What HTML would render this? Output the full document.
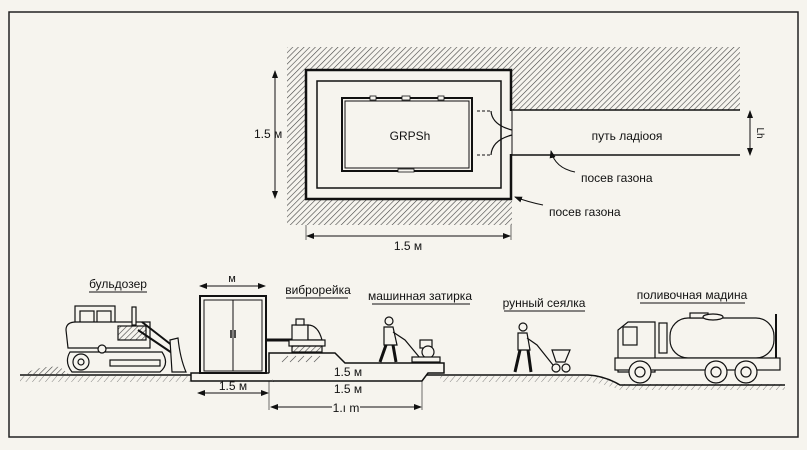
<!DOCTYPE html>
<html><head><meta charset="utf-8"><style>
html,body{margin:0;padding:0;background:#f6f4ee}
svg{display:block}
text{font-family:"Liberation Sans",sans-serif;fill:#111}
</style></head><body>
<svg width="807" height="450" viewBox="0 0 807 450" xmlns="http://www.w3.org/2000/svg">
<defs>
<pattern id="h" width="4" height="4" patternUnits="userSpaceOnUse" patternTransform="rotate(45)">
<line x1="0" y1="0" x2="0" y2="4" stroke="#444" stroke-width="1.2"/>
</pattern>
<pattern id="g" width="5" height="5" patternUnits="userSpaceOnUse" patternTransform="rotate(40)">
<line x1="0" y1="0" x2="0" y2="5" stroke="#666" stroke-width="0.8"/>
</pattern>
<marker id="a" markerWidth="8" markerHeight="8" refX="7" refY="4" orient="auto-start-reverse" markerUnits="userSpaceOnUse"><path d="M0,1 L8,4 L0,7 Z" fill="#111"/></marker>
</defs>
<rect x="0" y="0" width="807" height="450" fill="#f6f4ee"/>
<rect x="9" y="12" width="789" height="425" fill="none" stroke="#222" stroke-width="1.5"/>

<path d="M287,47 H740 V110 H512 V225 H287 Z" fill="url(#h)"/>
<rect x="306" y="70" width="205" height="129" fill="#f6f4ee" stroke="#111" stroke-width="2.5"/>
<rect x="317" y="81" width="184" height="107" fill="none" stroke="#111" stroke-width="1.5"/>
<rect x="342" y="98" width="130" height="73" fill="none" stroke="#111" stroke-width="2"/>
<rect x="345" y="101" width="124" height="67" fill="none" stroke="#111" stroke-width="1"/>
<rect x="370" y="96" width="6" height="4" fill="#f6f4ee" stroke="#111" stroke-width="0.8"/>
<rect x="402" y="96" width="8" height="4" fill="#f6f4ee" stroke="#111" stroke-width="0.8"/>
<rect x="438" y="96" width="6" height="4" fill="#f6f4ee" stroke="#111" stroke-width="0.8"/>
<rect x="398" y="169" width="16" height="3" fill="#f6f4ee" stroke="#111" stroke-width="0.8"/>
<rect x="512" y="111" width="228" height="44" fill="#f6f4ee"/>
<line x1="512" y1="110" x2="740" y2="110" stroke="#111" stroke-width="1.5"/>
<line x1="512" y1="155" x2="740" y2="155" stroke="#111" stroke-width="1.5"/>
<rect x="509" y="111" width="5" height="43" fill="#f6f4ee"/>
<line x1="477" y1="111" x2="490" y2="111" stroke="#111" stroke-dasharray="3,2"/>
<line x1="477" y1="155" x2="490" y2="155" stroke="#111" stroke-dasharray="3,2"/>
<path d="M491,111 Q492,125 512,130 M491,155 Q492,140 512,135" fill="none" stroke="#111" stroke-width="1.2"/>
<line x1="512" y1="111" x2="512" y2="155" stroke="#111" stroke-width="1"/>
<text x="410" y="140" font-size="12" text-anchor="middle">GRPSh</text>
<text x="627" y="140" font-size="12" text-anchor="middle">путь ладiooя</text>
<line x1="750" y1="111" x2="750" y2="155" stroke="#111" marker-start="url(#a)" marker-end="url(#a)"/>
<text x="0" y="0" font-size="10" transform="translate(757,133) rotate(90)" text-anchor="middle">Lh</text>
<line x1="275" y1="71" x2="275" y2="198" stroke="#111" marker-start="url(#a)" marker-end="url(#a)"/>
<text x="254" y="138" font-size="12">1.5 м</text>
<line x1="307" y1="236" x2="510" y2="236" stroke="#111" marker-start="url(#a)" marker-end="url(#a)"/>
<line x1="306" y1="225" x2="306" y2="240" stroke="#111" stroke-width="0.6"/>
<line x1="511" y1="225" x2="511" y2="240" stroke="#111" stroke-width="0.6"/>
<text x="408" y="250" font-size="12" text-anchor="middle">1.5 м</text>
<path d="M575,172 Q555,168 551,151" fill="none" stroke="#111" marker-end="url(#a)"/>
<text x="581" y="182" font-size="12">посев газона</text>
<path d="M543,205 Q528,202 515,197" fill="none" stroke="#111" marker-end="url(#a)"/>
<text x="549" y="216" font-size="12">посев газона</text>

<rect x="20" y="376" width="170" height="6" fill="url(#g)"/>
<rect x="440" y="376" width="150" height="6" fill="url(#g)"/>
<path d="M590,376 Q605,378 620,384 L785,384 L785,390 L620,390 Q605,384 590,382Z" fill="url(#g)"/>
<path d="M20,375 H191 M422,375 H588 Q605,376 620,385 H785" fill="none" stroke="#111" stroke-width="1.5"/>
<path d="M22,375 Q40,365 60,367 Q66,372 70,375 Z" fill="url(#h)"/>
<rect x="191" y="373" width="82" height="8" fill="#f6f4ee" stroke="#111" stroke-width="1.5"/>
<path d="M269,373 V353 H335 L345,363 H444 V373 H428 L422,381 H273" fill="#f6f4ee" stroke="#111" stroke-width="1.5"/>
<path d="M282,362 l6,-6 M290,362 l6,-6 M298,362 l6,-6 M306,362 l6,-6 M314,362 l6,-6" stroke="#666" stroke-width="0.8"/>
<rect x="200" y="296" width="66" height="77" fill="#f6f4ee" stroke="#111" stroke-width="2"/>
<rect x="204" y="300" width="58" height="71" fill="none" stroke="#111" stroke-width="1"/>
<line x1="233" y1="300" x2="233" y2="371" stroke="#111"/>
<line x1="231" y1="330" x2="231" y2="338" stroke="#111" stroke-width="1.5"/>
<line x1="235" y1="330" x2="235" y2="338" stroke="#111" stroke-width="1.5"/>
<line x1="200" y1="286" x2="265" y2="286" stroke="#111" marker-start="url(#a)" marker-end="url(#a)"/>
<text x="232" y="282" font-size="11" text-anchor="middle">м</text>
<line x1="198" y1="393" x2="268" y2="393" stroke="#111" marker-start="url(#a)" marker-end="url(#a)"/>
<line x1="269" y1="381" x2="269" y2="410" stroke="#111" stroke-width="0.6"/>
<line x1="422" y1="381" x2="422" y2="410" stroke="#111" stroke-width="0.6"/>
<text x="233" y="390" font-size="12" text-anchor="middle">1.5 м</text>
<text x="348" y="376" font-size="12" text-anchor="middle">1.5 м</text>
<text x="348" y="393" font-size="12" text-anchor="middle">1.5 м</text>
<line x1="271" y1="407" x2="421" y2="407" stroke="#111" marker-start="url(#a)" marker-end="url(#a)"/>
<rect x="332" y="400" width="28" height="14" fill="#f6f4ee"/>
<text x="346" y="412" font-size="12" text-anchor="middle">1.ı m</text>

<g font-size="12">
<text x="118" y="288" text-anchor="middle">бульдозер</text><line x1="89" y1="292" x2="147" y2="292" stroke="#111"/>
<text x="318" y="294" text-anchor="middle">виброрейка</text><line x1="286" y1="298" x2="348" y2="298" stroke="#111"/>
<text x="420" y="300" text-anchor="middle">машинная затирка</text><line x1="372" y1="304" x2="470" y2="304" stroke="#111"/>
<text x="544" y="307" text-anchor="middle">рунный сеялка</text><line x1="504" y1="311" x2="585" y2="311" stroke="#111"/>
<text x="692" y="299" text-anchor="middle">поливочная мадина</text><line x1="640" y1="303" x2="745" y2="303" stroke="#111"/>
</g>

<g fill="#f6f4ee" stroke="#111" stroke-width="1.2">
<rect x="75" y="306" width="40" height="30"/>
<rect x="80" y="311" width="14" height="20" fill="none"/>
<rect x="97" y="311" width="14" height="22" fill="none"/>
<path d="M66,330 Q66,322 76,322 H150 V348 H68 Z"/>
<rect x="118" y="326" width="28" height="14" fill="url(#h)"/>
<rect x="132" y="307" width="4" height="18"/>
<path d="M70,352 Q64,362 72,372 H160 Q170,364 162,352 Z"/>
<circle cx="81" cy="362" r="8"/><circle cx="81" cy="362" r="3"/>
<circle cx="102" cy="349" r="4"/>
<rect x="110" y="360" width="50" height="6"/>
<path d="M138,330 L175,355 M142,322 L178,350" stroke-width="2"/>
<path d="M170,340 L178,338 Q180,358 186,372 L172,372 Z"/>
</g>
<g fill="#f6f4ee" stroke="#111" stroke-width="1.2">
<line x1="266" y1="340" x2="292" y2="340" stroke-width="3"/>
<rect x="292" y="325" width="16" height="16"/>
<rect x="296" y="319" width="8" height="6"/>
<path d="M308,325 Q318,325 322,340 H308Z"/>
<rect x="289" y="340" width="36" height="6"/>
<rect x="292" y="346" width="30" height="6" fill="url(#h)"/>
</g>
<g fill="#f6f4ee" stroke="#111" stroke-width="1.2">
<circle cx="389" cy="321" r="4"/>
<path d="M384,327 H393 L397,345 H384 Z"/>
<path d="M386,345 L380,362 M393,345 L396,362" stroke-width="3"/>
<path d="M393,332 L405,340 L420,358" fill="none"/>
<rect x="420" y="340" width="12" height="8"/><circle cx="428" cy="352" r="6"/>
<rect x="412" y="357" width="28" height="5"/>
</g>
<g fill="#f6f4ee" stroke="#111" stroke-width="1.2">
<circle cx="523" cy="327" r="4"/>
<path d="M518,333 H527 L530,350 H518 Z"/>
<path d="M520,350 L515,372 M528,350 L531,372" stroke-width="3"/>
<path d="M527,338 L537,345 L553,365" fill="none"/>
<path d="M552,350 H570 L565,362 H556Z"/><circle cx="556" cy="368" r="4"/><circle cx="566" cy="368" r="4"/>
</g>
<g fill="#f6f4ee" stroke="#111" stroke-width="1.2">
<path d="M618,372 V330 L628,322 H655 V372 Z"/>
<rect x="623" y="327" width="14" height="18"/>
<rect x="659" y="323" width="8" height="30"/>
<rect x="670" y="318" width="104" height="40" rx="18"/>
<rect x="690" y="313" width="18" height="5"/>
<ellipse cx="713" cy="317" rx="10" ry="3"/>
<line x1="776" y1="314" x2="776" y2="370" stroke-width="2"/>
<rect x="615" y="358" width="165" height="12"/>
<circle cx="640" cy="372" r="11"/><circle cx="640" cy="372" r="5"/>
<circle cx="716" cy="372" r="11"/><circle cx="716" cy="372" r="5"/>
<circle cx="746" cy="372" r="11"/><circle cx="746" cy="372" r="5"/>
</g>
</svg>
</body></html>
